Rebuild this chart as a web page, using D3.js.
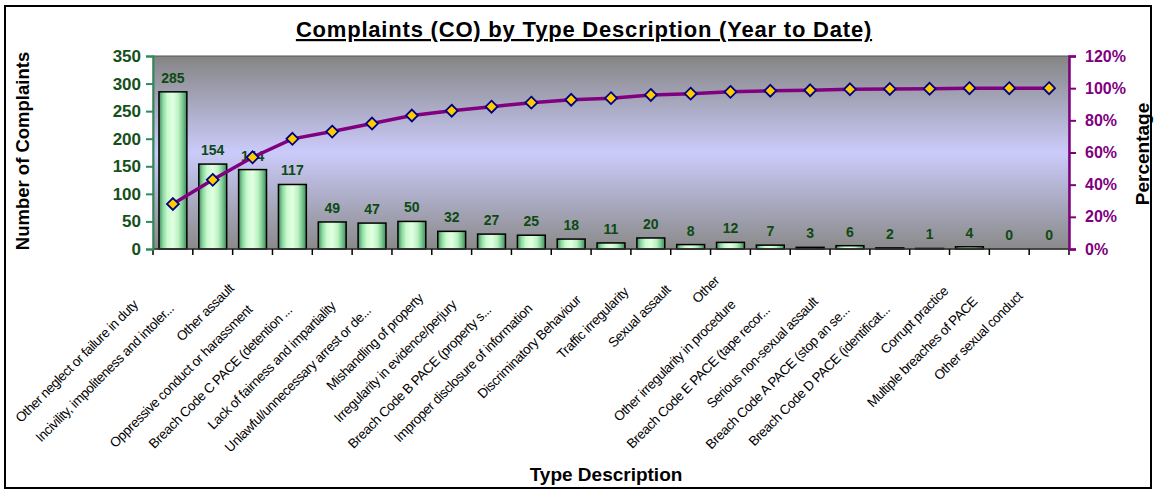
<!DOCTYPE html>
<html>
<head>
<meta charset="utf-8">
<script src="https://cdn.jsdelivr.net/npm/d3@7"></script>
<style>
  body { margin: 0; background: #fff; }
  text { font-family: "Liberation Sans", Arial, sans-serif; }
</style>
</head>
<body>
<script>
// chart data
var categories = [
  "Other neglect or failure in duty",
  "Incivility, impoliteness and intoler...",
  "Other assault",
  "Oppressive conduct or harassment",
  "Breach Code C PACE (detention ...",
  "Lack of fairness and impartiality",
  "Unlawful/unnecessary arrest or de...",
  "Mishandling of property",
  "Irregularity in evidence/perjury",
  "Breach Code B PACE (property s...",
  "Improper disclosure of information",
  "Discriminatory Behaviour",
  "Traffic irregularity",
  "Sexual assault",
  "Other",
  "Other irregularity in procedure",
  "Breach Code E PACE (tape recor...",
  "Serious non-sexual assault",
  "Breach Code A PACE (stop an se...",
  "Breach Code D PACE (identificat...",
  "Corrupt practice",
  "Multiple breaches of PACE",
  "Other sexual conduct"
];
var complaints = [285, 154, 144, 117, 49, 47, 50, 32, 27, 25, 18, 11, 20, 8, 12, 7, 3, 6, 2, 1, 4, 0, 0];
var cumulativePct = [28, 43, 57, 68.5, 73, 78, 83, 86, 88.5, 91, 92.8, 93.8, 95.8, 96.6, 97.7, 98.4, 98.7, 99.3, 99.5, 99.6, 100, 100, 100];
var countTicks = [0, 50, 100, 150, 200, 250, 300, 350];
var pctTicks = [0, 20, 40, 60, 80, 100, 120];

var W = 1156, H = 490;
var margin = {top: 56, right: 87, bottom: 241, left: 153};
var width = W - margin.left - margin.right,
    height = H - margin.top - margin.bottom;

var svg = d3.select("body").append("svg")
    .attr("width", W)
    .attr("height", H);

var defs = svg.append("defs");

// plot background: grey - lavender - grey
var bg = defs.append("linearGradient").attr("id", "bg")
    .attr("x1", 0).attr("y1", 0).attr("x2", 0).attr("y2", 1);
bg.append("stop").attr("offset", "0%").attr("stop-color", "#858585");
bg.append("stop").attr("offset", "50%").attr("stop-color", "#cbcbfb");
bg.append("stop").attr("offset", "100%").attr("stop-color", "#8a8a8a");

// cylinder-ish green for the bars
var barGrad = defs.append("linearGradient").attr("id", "bar")
    .attr("x1", 0).attr("y1", 0).attr("x2", 1).attr("y2", 0);
[["0%", "#3f8f5c"], ["15%", "#8fd9a4"], ["30%", "#c8fbcc"], ["50%", "#e4ffe4"],
 ["70%", "#b9f2c0"], ["85%", "#7cc893"], ["100%", "#3f8a5a"]].forEach(function(s) {
  barGrad.append("stop").attr("offset", s[0]).attr("stop-color", s[1]);
});

// outer frame
svg.append("rect")
    .attr("x", 5).attr("y", 6)
    .attr("width", 1146).attr("height", 482)
    .attr("fill", "none")
    .attr("stroke", "#000")
    .attr("stroke-width", 2);

// title
svg.append("text")
    .attr("x", 584).attr("y", 37)
    .attr("text-anchor", "middle")
    .style("font-size", "22px")
    .style("font-weight", "bold")
    .style("letter-spacing", "0.8px")
    .style("text-decoration", "underline")
    .text("Complaints (CO) by Type Description (Year to Date)");

var g = svg.append("g")
    .attr("transform", "translate(" + margin.left + "," + margin.top + ")");

var x = d3.scaleBand()
    .domain(categories)
    .range([0, width])
    .paddingInner(0.3)
    .paddingOuter(0.15);

var y = d3.scaleLinear().domain([0, 350]).range([height, 0]);
var yPct = d3.scaleLinear().domain([0, 120]).range([height, 0]);

g.append("rect")
    .attr("width", width).attr("height", height)
    .attr("fill", "url(#bg)")
    .attr("stroke", "#555")
    .attr("stroke-width", 1);

// bars
g.selectAll(".bar")
    .data(complaints)
    .enter().append("rect")
    .attr("class", "bar")
    .attr("x", function(d, i) { return x(categories[i]); })
    .attr("y", function(d) { return y(d); })
    .attr("width", x.bandwidth())
    .attr("height", function(d) { return height - y(d); })
    .attr("fill", "url(#bar)")
    .attr("stroke", "#000")
    .attr("stroke-width", 1.5);

// value labels
g.selectAll(".val")
    .data(complaints)
    .enter().append("text")
    .attr("class", "val")
    .attr("x", function(d, i) { return x(categories[i]) + x.bandwidth() / 2; })
    .attr("y", function(d) { return y(d) - 9; })
    .attr("text-anchor", "middle")
    .style("font-size", "14px")
    .style("font-weight", "bold")
    .style("fill", "#0d4a12")
    .text(function(d) { return d; });

// x axis (ticks between categories)
var step = x.step();
g.append("line")
    .attr("x1", 0).attr("x2", width)
    .attr("y1", height).attr("y2", height)
    .attr("stroke", "#333").attr("stroke-width", 1.5);
g.selectAll(".xtick")
    .data(d3.range(categories.length + 1))
    .enter().append("line")
    .attr("x1", function(i) { return i * step; })
    .attr("x2", function(i) { return i * step; })
    .attr("y1", height).attr("y2", height + 6)
    .attr("stroke", "#000").attr("stroke-width", 1.5);

// category labels, rotated 45deg; longer labels slide further down-left
var cats = g.selectAll(".cat")
    .data(categories)
    .enter().append("text")
    .attr("class", "cat")
    .attr("dominant-baseline", "central")
    .style("font-size", "13.5px")
    .style("letter-spacing", "-0.45px")
    .style("fill", "#000")
    .text(function(d) { return d; });

cats.attr("transform", function(d) {
  var cx = x(d) + x.bandwidth() / 2;
  var ext = this.getComputedTextLength() / Math.SQRT2;
  var off = 1.25 * ext + 8;
  return "translate(" + (cx - off) + "," + (height + 16 + off) + ") rotate(-45)";
});

// left axis
var yAxis = d3.axisLeft(y).tickValues(countTicks).tickSize(7).tickPadding(5);
var ya = g.append("g").call(yAxis);
ya.select(".domain").attr("stroke", "#2e8b57").attr("stroke-width", 2);
ya.selectAll(".tick line").attr("stroke", "#2e8b57").attr("stroke-width", 2);
ya.selectAll(".tick text")
    .style("font-size", "17px")
    .style("font-weight", "bold")
    .style("font-family", "Liberation Sans, Arial, sans-serif")
    .attr("fill", "#14501a");

// right axis
var yAxisR = d3.axisRight(yPct).tickValues(pctTicks).tickSize(7).tickPadding(9)
    .tickFormat(function(d) { return d + "%"; });
var yr = g.append("g").attr("transform", "translate(" + width + ",0)").call(yAxisR);
yr.select(".domain").attr("stroke", "#800080").attr("stroke-width", 2.5);
yr.selectAll(".tick line").attr("stroke", "#800080").attr("stroke-width", 2);
yr.selectAll(".tick text")
    .style("font-size", "16px")
    .style("font-weight", "bold")
    .style("font-family", "Liberation Sans, Arial, sans-serif")
    .attr("fill", "#800080");

// cumulative line
var line = d3.line()
    .x(function(d, i) { return x(categories[i]) + x.bandwidth() / 2; })
    .y(function(d) { return yPct(d); });

g.append("path")
    .datum(cumulativePct)
    .attr("d", line)
    .attr("fill", "none")
    .attr("stroke", "#800080")
    .attr("stroke-width", 3.5);

g.selectAll(".pt")
    .data(cumulativePct)
    .enter().append("path")
    .attr("class", "pt")
    .attr("d", d3.symbol().type(d3.symbolDiamond2).size(90))
    .attr("transform", function(d, i) {
      return "translate(" + (x(categories[i]) + x.bandwidth() / 2) + "," + yPct(d) + ")";
    })
    .attr("fill", "#ffcc00")
    .attr("stroke", "#000080")
    .attr("stroke-width", 1.8);

// axis titles
svg.append("text")
    .attr("transform", "translate(29,151) rotate(-90)")
    .attr("text-anchor", "middle")
    .style("font-size", "18.5px")
    .style("font-weight", "bold")
    .text("Number of Complaints");

svg.append("text")
    .attr("transform", "translate(1149,154) rotate(-90)")
    .attr("text-anchor", "middle")
    .style("font-size", "19px")
    .style("font-weight", "bold")
    .text("Percentage");

svg.append("text")
    .attr("x", 606).attr("y", 481)
    .attr("text-anchor", "middle")
    .style("font-size", "19px")
    .style("font-weight", "bold")
    .text("Type Description");
</script>
</body>
</html>
